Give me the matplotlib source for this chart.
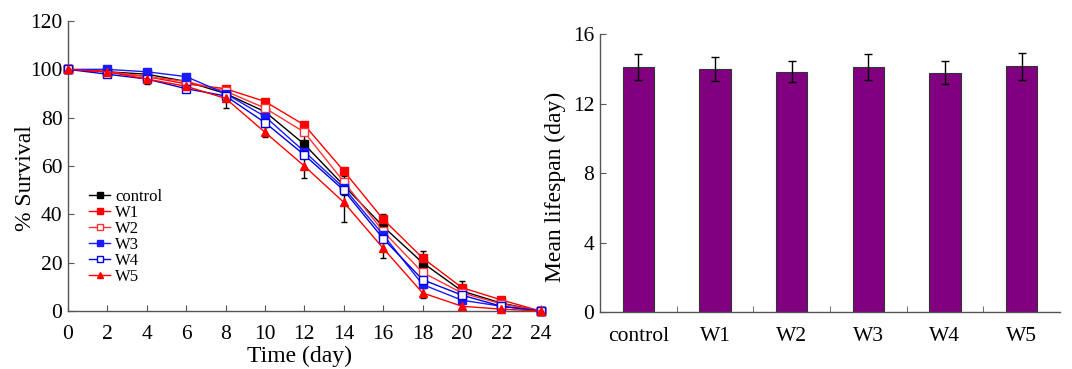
import numpy as np
import matplotlib
matplotlib.use("Agg")
import matplotlib.pyplot as plt

plt.rcParams["font.family"] = ["Liberation Serif", "DejaVu Serif"]

# ---- survival data (% alive) ----
days = [0, 2, 4, 6, 8, 10, 12, 14, 16, 18, 20, 22, 24]
control = [100, 99, 98, 95, 90, 82.5, 69, 52, 35, 20, 8.3, 3.3, 0]
w1 = [100, 99, 97, 94, 92, 86.7, 77, 58, 38, 22, 9.7, 4.6, 0]
w2 = [100, 99, 97, 95, 91, 84, 74, 53.5, 33, 16, 7.5, 3, 0]
w3 = [100, 100, 99, 97, 90, 80.5, 66, 51, 31.6, 11, 4.5, 2, 0]
w4 = [100, 98, 96, 92, 89, 78, 64.6, 50, 30, 13, 6.6, 2, 0]
w5 = [100, 99, 96, 93, 88, 74, 60, 45, 26, 7.5, 2, 0.8, 0]
control_err = [0, 2, 2, 2, 3, 4, 5, 4, 5, 5, 4, 1, 0]
w5_err = [0, 2, 2, 2, 4, 2, 5, 8, 4, 2, 2, 2, 0]

# ---- mean lifespan ----
groups = ["control", "W1", "W2", "W3", "W4", "W5"]
lifespan = [14.08, 14.0, 13.83, 14.08, 13.79, 14.14]
lifespan_err = [0.75, 0.7, 0.6, 0.75, 0.65, 0.8]

fig = plt.figure(figsize=(10.72, 3.69), dpi=100)
ax1 = fig.add_axes([0.0634, 0.157, 0.441, 0.786])
ax2 = fig.add_axes([0.5597, 0.1545, 0.429, 0.753])

spine_col = "#555555"
fs = 15.5
lfs = 17

# left panel: survival curves
series = [
    ("control", control, "black", "s", "black"),
    ("W1", w1, "#ff0000", "s", "#ff0000"),
    ("W2", w2, "#ff3333", "s", "white"),
    ("W3", w3, "#1a1aff", "s", "#1a1aff"),
    ("W4", w4, "#0000e0", "s", "white"),
    ("W5", w5, "#ff0000", "^", "#ff0000"),
]
for name, vals, col, mk, fc in series:
    ax1.plot(days, vals, color=col, lw=1, marker=mk, ms=6,
             mfc=fc, mec=col, mew=1, label=name, clip_on=False, zorder=3)

ax1.errorbar(days, control, yerr=control_err, fmt="none", ecolor="black",
             elinewidth=1, capsize=2, zorder=2)
ax1.errorbar(days, w5, yerr=w5_err, fmt="none", ecolor="black",
             elinewidth=1, capsize=2, zorder=2)

ax1.set_xlim(0, 24)
ax1.set_ylim(0, 120)
ax1.set_xticks(range(0, 25, 2))
ax1.set_yticks(range(0, 121, 20))
ax1.set_xlabel("Time (day)", fontsize=lfs)
ax1.xaxis.set_label_coords(0.49, -0.155)
ax1.xaxis.label.set_va("center")
ax1.set_ylabel("% Survival", fontsize=lfs)
ax1.yaxis.set_label_coords(-0.09, 0.46)
ax1.yaxis.label.set_va("center")
ax1.legend(loc="upper left", bbox_to_anchor=(0.03, 0.445), frameon=False,
           fontsize=12, labelspacing=0.0, handlelength=1.3,
           handletextpad=0.3, borderaxespad=0, markerscale=0.75)

# right panel: mean lifespan bars
x = np.arange(len(groups))
ax2.bar(x, lifespan, width=0.41, color="#800080", edgecolor="#333333",
        linewidth=0.8, yerr=lifespan_err,
        error_kw=dict(ecolor="black", elinewidth=1, capsize=3))
ax2.set_xlim(-0.5, len(groups) - 0.5)
ax2.set_ylim(0, 16)
ax2.set_yticks([0, 4, 8, 12, 16])
ax2.set_xticks(x)
ax2.set_xticklabels(groups)
ax2.set_xticks(np.arange(0.5, len(groups) - 0.5, 1), minor=True)
ax2.set_ylabel("Mean lifespan (day)", fontsize=lfs)
ax2.yaxis.set_label_coords(-0.098, 0.451)
ax2.yaxis.label.set_va("center")

for ax in (ax1, ax2):
    ax.spines["top"].set_visible(False)
    ax.spines["right"].set_visible(False)
    for s in ("left", "bottom"):
        ax.spines[s].set_color(spine_col)
        ax.spines[s].set_linewidth(1)
    ax.tick_params(direction="in", length=4, color=spine_col,
                   labelsize=fs)
    ax.tick_params(axis="y", pad=4)
    ax.tick_params(axis="x", pad=10)

ax2.tick_params(axis="x", which="major", length=0, pad=11)
ax2.tick_params(axis="x", which="minor", length=4, direction="in",
                color=spine_col)

fig.savefig("out.png", dpi=100)
